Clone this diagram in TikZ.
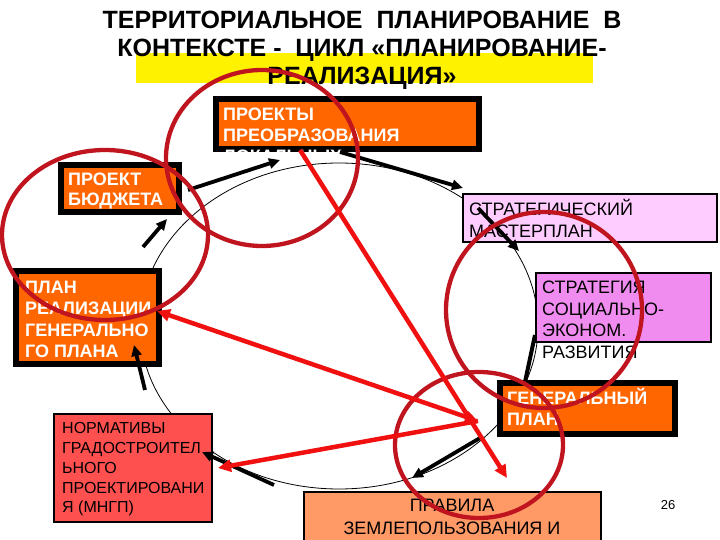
\documentclass[tikz,border=0pt]{standalone}
\usepackage{fontspec}
\setmainfont{Liberation Sans}
\usetikzlibrary{arrows.meta}
\definecolor{orng}{HTML}{FF6600}
\definecolor{pinkl}{HTML}{FFCCFF}
\definecolor{viol}{HTML}{F08CF0}
\definecolor{salm}{HTML}{FF5050}
\definecolor{lorng}{HTML}{FF9966}
\definecolor{dred}{HTML}{C0141E}
\definecolor{bred}{HTML}{F01010}
\newcommand\firstl{\rule{0pt}{1em}}
\begin{document}
\begin{tikzpicture}[x=1pt,y=-1pt,
  darkbox/.style={draw=black, line width=6pt, fill=orng, inner sep=0pt, outer sep=0pt},
  thinbox/.style={draw=black, line width=2.2pt, inner sep=0pt, outer sep=0pt},
  btxt/.style={anchor=north west, inner sep=0pt, align=left, text=white, font=\bfseries\fontsize{18}{21.3}\selectfont},
  rtxt/.style={anchor=north west, inner sep=0pt, align=left, text=black, font=\fontsize{18}{21.5}\selectfont},
  blk/.style={draw=black, line width=3.8pt, -{Triangle[length=11pt,width=10pt]}},
  redc/.style={draw=dred, line width=4.3pt},
  reda/.style={draw=bred, line width=4.5pt, -{Triangle[length=13pt,width=12pt]}},
]
\useasboundingbox (0,0) rectangle (720,540);
\fill[white] (0,0) rectangle (720,540);
% title
\fill[yellow] (136,53) rectangle (593,83);
\node[anchor=north, inner sep=0pt, align=center, font=\bfseries\fontsize{25}{28}\selectfont] (title) at (362,3)
  {\firstl ТЕРРИТОРИАЛЬНОЕ\ \ ПЛАНИРОВАНИЕ\ \ В\\КОНТЕКСТЕ -\ \ ЦИКЛ «ПЛАНИРОВАНИЕ-\\РЕАЛИЗАЦИЯ»};
% cycle ellipse
\draw[line width=0.8pt] (339,326) ellipse [x radius=199, y radius=163];
% boxes
\node[darkbox, minimum width=263pt, minimum height=50pt] (prj) at (347.5,124) {};
\node[darkbox, minimum width=118pt, minimum height=47pt] (bud) at (120,188.5) {};
\node[thinbox, fill=pinkl, minimum width=254pt, minimum height=48pt] (smp) at (590,218) {};
\node[thinbox, fill=viol, minimum width=175pt, minimum height=69pt] (ssr) at (623.5,307.5) {};
\node[darkbox, minimum width=175pt, minimum height=51pt] (gen) at (587.5,408.5) {};
\node[thinbox, fill=lorng, minimum width=297pt, minimum height=56pt] (pzz) at (452.5,520) {};
\node[thinbox, fill=salm, minimum width=158pt, minimum height=108pt] (mngp) at (133,468) {};
\node[darkbox, minimum width=143pt, minimum height=93pt] (real) at (87.5,317.5) {};
% texts
\node[btxt, font=\bfseries\fontsize{18}{21}\selectfont] (tprj) at (223,102.4) {\firstl ПРОЕКТЫ\\ПРЕОБРАЗОВАНИЯ\\ЛОКАЛЬНЫХ};
\node[btxt, font=\bfseries\fontsize{18}{20}\selectfont] (tbud) at (68,167.4) {\firstl ПРОЕКТ\\БЮДЖЕТА};
\node[rtxt, font=\fontsize{18}{22}\selectfont] (tsmp) at (469,197.4) {\firstl СТРАТЕГИЧЕСКИЙ\\МАСТЕРПЛАН};
\node[rtxt] (tssr) at (542,275.4) {\firstl СТРАТЕГИЯ\\СОЦИАЛЬНО-\\ЭКОНОМ.\\РАЗВИТИЯ};
\node[btxt, font=\bfseries\fontsize{18}{21}\selectfont] (tgen) at (507,386.4) {\firstl ГЕНЕРАЛЬНЫЙ\\ПЛАН};
\node[rtxt, anchor=north, align=center, font=\fontsize{18}{23}\selectfont] (tpzz) at (452,493.4) {\firstl ПРАВИЛА\\ЗЕМЛЕПОЛЬЗОВАНИЯ И};
\node[rtxt, font=\fontsize{16}{19.7}\selectfont] (tmngp) at (62,417.7) {\firstl НОРМАТИВЫ\\ГРАДОСТРОИТЕЛ\\ЬНОГО\\ПРОЕКТИРОВАНИ\\Я (МНГП)};
\node[btxt] (treal) at (25,275.4) {\firstl ПЛАН\\РЕАЛИЗАЦИИ\\ГЕНЕРАЛЬНО\\ГО ПЛАНА};
\node[font=\fontsize{13}{15}\selectfont, inner sep=0pt] (num) at (668,505) {26};
% arrow end points
\coordinate (a1) at (188,190); \coordinate (a2) at (280,160);
\coordinate (b1) at (340,152); \coordinate (b2) at (463,188);
\coordinate (c1) at (478,208); \coordinate (c2) at (519,251);
\coordinate (d1) at (535,335); \coordinate (d2) at (525,382);
\coordinate (e1) at (480,438); \coordinate (e2) at (412,478);
\coordinate (f1) at (274,485); \coordinate (f2) at (202,452);
\coordinate (g1) at (145,390); \coordinate (g2) at (134,345);
\coordinate (h1) at (143,247); \coordinate (h2) at (167,219);
\draw[blk] (a1) -- (a2);
\draw[blk] (b1) -- (b2);
\draw[blk] (c1) -- (c2);
\draw[draw=black, line width=4pt] (d1) -- (d2);
\draw[blk] (e1) -- (e2);
\draw[blk] (f1) -- (f2);
\draw[blk] (g1) -- (g2);
\draw[blk] (h1) -- (h2);
% red circles
\draw[redc] (262,158) ellipse [x radius=96, y radius=88];
\draw[redc] (105,235) ellipse [x radius=103, y radius=85];
\draw[redc] (544,310) circle [radius=98];
\draw[redc] (479,445) ellipse [x radius=84, y radius=73];
% red arrows
\coordinate (r1) at (300,150); \coordinate (r2) at (507,478);
\coordinate (rl) at (157,311); \coordinate (rm) at (478,421);
\coordinate (rn) at (218,468);
\draw[reda] (r1) -- (r2);
\draw[reda, {Triangle[length=13pt,width=12pt]}-{Triangle[length=13pt,width=12pt]}] (rl) -- (rm);
\draw[reda] (rm) -- (rn);
\end{tikzpicture}
\end{document}
